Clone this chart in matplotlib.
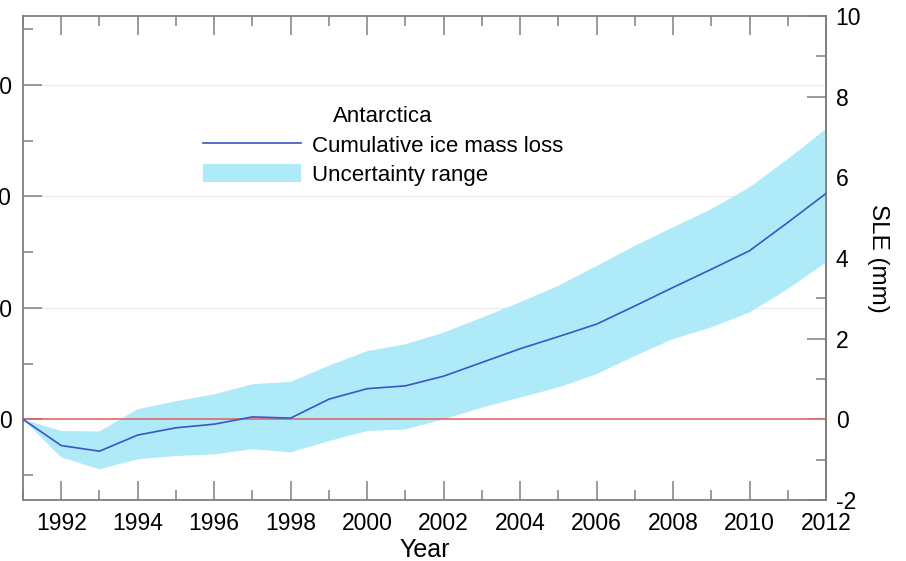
import numpy as np
import matplotlib
matplotlib.use("Agg")
import matplotlib.pyplot as plt
from matplotlib.ticker import MultipleLocator, FixedLocator

plt.rcParams['font.family'] = ['Liberation Sans', 'DejaVu Sans']
plt.rcParams['axes.unicode_minus'] = False

years = np.arange(1991, 2013)
# cumulative ice mass loss, sea-level equivalent (mm)
sle_mean = [0.00, -0.65, -0.79, -0.39, -0.21, -0.12, 0.06, 0.03, 0.50, 0.76, 0.83,
            1.07, 1.41, 1.75, 2.05, 2.36, 2.81, 3.27, 3.72, 4.18, 4.88, 5.60]
sle_upper = [0.00, -0.29, -0.30, 0.25, 0.45, 0.62, 0.87, 0.93, 1.33, 1.69, 1.86,
             2.15, 2.52, 2.90, 3.31, 3.80, 4.30, 4.76, 5.21, 5.75, 6.45, 7.20]
sle_lower = [0.00, -0.94, -1.24, -0.99, -0.91, -0.87, -0.74, -0.82, -0.54, -0.29, -0.25,
             0.00, 0.29, 0.54, 0.79, 1.12, 1.57, 1.99, 2.28, 2.65, 3.23, 3.89]
GT_PER_MM = 362.0

gt_ticks = [0, 1000, 2000, 3000]
gt_labels = ['0', '1000', '2000', '3000']
sle_ticks = [-2, 0, 2, 4, 6, 8, 10]
xticks = list(range(1992, 2013, 2))

mean_gt = np.array(sle_mean) * GT_PER_MM
up_gt = np.array(sle_upper) * GT_PER_MM
lo_gt = np.array(sle_lower) * GT_PER_MM

W, H = 906, 561
fig = plt.figure(figsize=(W / 100, H / 100), dpi=100)
ax = fig.add_axes([23 / W, 1 - 500 / H, (826 - 23) / W, (500 - 16) / H])

spine_col = '#808080'
for s in ax.spines.values():
    s.set_color(spine_col)
    s.set_linewidth(1.3)

fill = ax.fill_between(years, lo_gt, up_gt, color='#aeeaf8', edgecolor='none',
                       label='Uncertainty range', zorder=1)
ax.axhline(0, color='#e06060', lw=1.1, zorder=2)
line, = ax.plot(years, mean_gt, color='#3a55c4', lw=1.2, label='Cumulative ice mass loss', zorder=3)

ax.set_xlim(1991, 2012)
ax.set_ylim(-2 * GT_PER_MM, 10 * GT_PER_MM)

ax.yaxis.set_major_locator(FixedLocator(gt_ticks))
ax.yaxis.set_minor_locator(MultipleLocator(500))
ax.set_yticklabels(gt_labels)
ax.grid(axis='y', which='major', color='#ececec', lw=0.9, zorder=0)
ax.set_axisbelow(True)

ax.xaxis.set_major_locator(FixedLocator(xticks))
ax.xaxis.set_minor_locator(MultipleLocator(1))

ax.tick_params(axis='both', which='major', direction='in', length=14, width=1.1,
               color=spine_col, labelsize=16.5, top=True)
ax.tick_params(axis='both', which='minor', direction='in', length=7, width=1.1,
               color=spine_col, top=True)
ax.tick_params(axis='y', which='both', right=False)
ax.tick_params(axis='y', which='major', pad=8)
ax.tick_params(axis='x', which='major', pad=9)

sec = ax.secondary_yaxis('right', functions=(lambda g: g / GT_PER_MM, lambda m: m * GT_PER_MM))
sec.spines['right'].set_color(spine_col)
sec.spines['right'].set_linewidth(1.3)
sec.yaxis.set_major_locator(FixedLocator(sle_ticks))
sec.yaxis.set_minor_locator(MultipleLocator(1))
sec.tick_params(axis='y', which='major', direction='in', length=14, width=1.1,
                color=spine_col, labelsize=16.5, pad=7)
sec.tick_params(axis='y', which='minor', direction='in', length=7, width=1.1, color=spine_col)
sec.set_ylabel('SLE (mm)', fontsize=17.5, rotation=270, labelpad=20)

ax.set_xlabel('Year', fontsize=18, labelpad=1.5)

leg = ax.legend(handles=[line, fill], title='Antarctica', loc='center',
                bbox_to_anchor=(383 / W, 1 - 146 / H), bbox_transform=fig.transFigure,
                frameon=False, fontsize=16, title_fontsize=16, handlelength=4.4,
                handleheight=0.85, handletextpad=0.5, labelspacing=0.35)

fig.savefig('out.png', dpi=100)
